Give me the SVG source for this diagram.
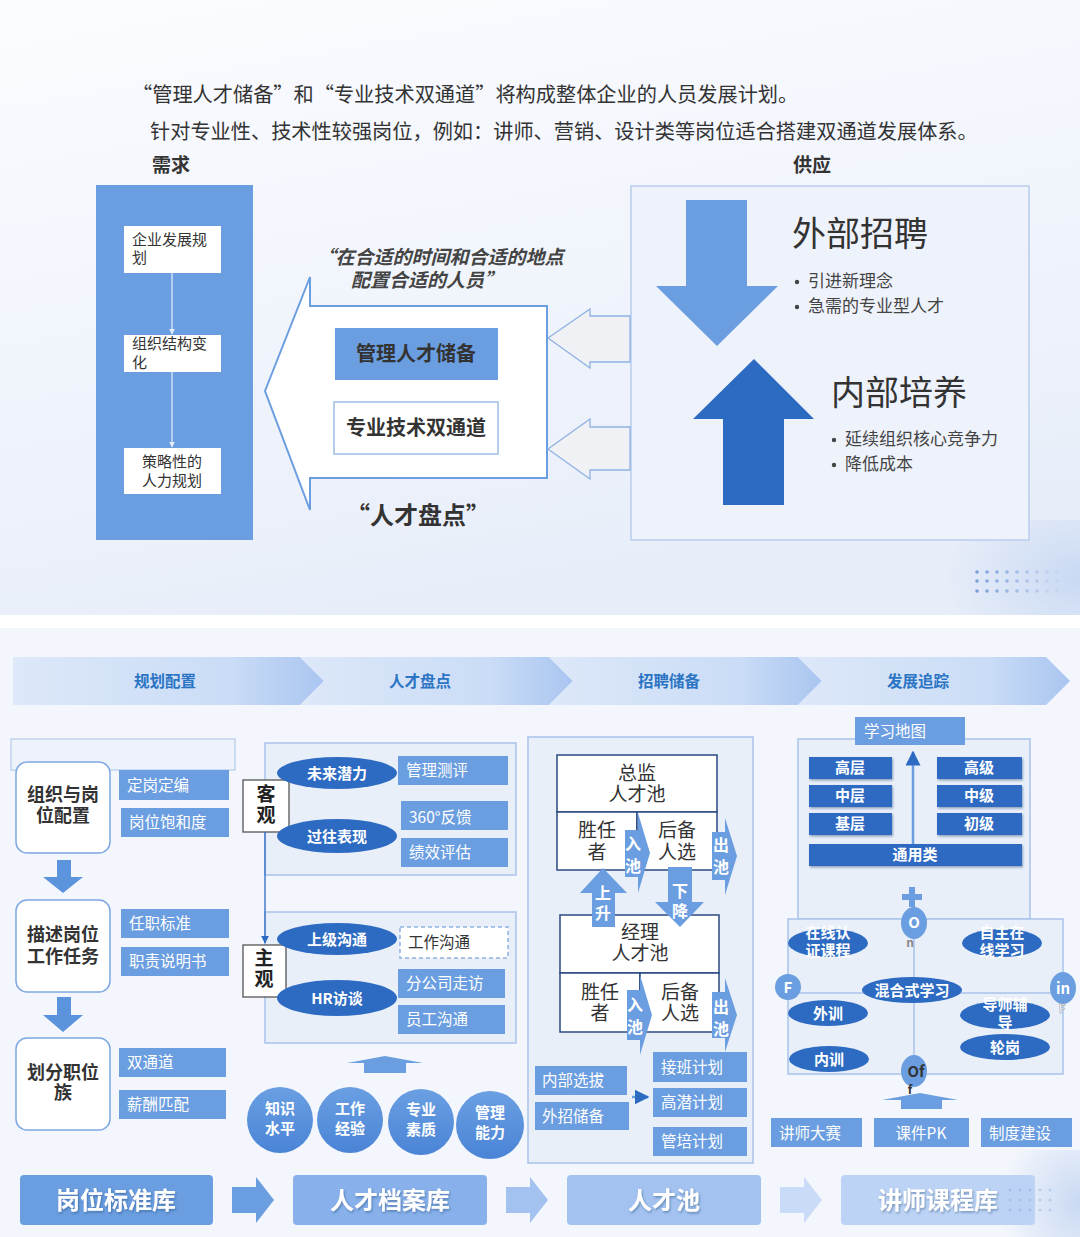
<svg xmlns="http://www.w3.org/2000/svg" width="1080" height="1237" viewBox="0 0 1080 1237">
<defs>
<linearGradient id="bgTop" x1="0" y1="0" x2="0.3" y2="1">
<stop offset="0" stop-color="#fbfcff"/><stop offset="1" stop-color="#e8eef9"/>
</linearGradient>
<linearGradient id="seg" x1="0" y1="0" x2="1" y2="0">
<stop offset="0" stop-color="#dde8f9"/><stop offset="0.7" stop-color="#cadcf6"/><stop offset="1" stop-color="#a9c5f0"/>
</linearGradient>
<radialGradient id="blob" cx="1" cy="0.6" r="1">
<stop offset="0" stop-color="#c9d9f3"/><stop offset="1" stop-color="#c9d9f3" stop-opacity="0"/>
</radialGradient>
<linearGradient id="circ" x1="0" y1="0" x2="0" y2="1">
<stop offset="0" stop-color="#6a9fe2"/><stop offset="1" stop-color="#4a84d6"/>
</linearGradient>
<marker id="ah" viewBox="0 0 10 10" refX="9" refY="5" markerWidth="6" markerHeight="6" orient="auto">
<path d="M0,0 L10,5 L0,10 z" fill="#2d6bc2"/>
</marker>
<marker id="ahw" viewBox="0 0 10 10" refX="9" refY="5" markerWidth="5" markerHeight="5" orient="auto">
<path d="M0,0 L10,5 L0,10 z" fill="#e4edfa"/>
</marker>
<filter id="sh" x="-20%" y="-20%" width="140%" height="140%">
<feDropShadow dx="1" dy="1.5" stdDeviation="0.8" flood-color="#1f3f70" flood-opacity="0.45"/>
</filter>
<style>
text { font-family: "Noto Sans CJK SC", "Noto Sans", sans-serif; }
.mb { fill: #6b9ee0; }
.db { fill: #2d6bc2; }
.cont { fill: #e9eff9; stroke: #a9c3ea; stroke-width: 1.5; }
.wl { fill: #ffffff; font-size: 15.5px; }
.wc { fill: #ffffff; font-size: 15px; font-weight: bold; text-anchor: middle; }
.dk { fill: #333333; }
.c { text-anchor: middle; }
.b { font-weight: bold; }
.hdr { fill: #2b74c4; font-size: 15.5px; font-weight: bold; text-anchor: middle; }
.pool { fill: #ffffff; stroke: #2a4a80; stroke-width: 1.5; }
.pt { fill: #333; font-size: 19px; text-anchor: middle; }
.at { fill: #fff; font-size: 16px; font-weight: bold; text-anchor: middle; }
.big { fill: #fff; font-size: 24px; font-weight: bold; text-anchor: middle; }
.dot { fill: #7a9fd8; }
</style>
</defs>

<!-- backgrounds -->
<rect x="0" y="0" width="1080" height="615" fill="url(#bgTop)"/>
<rect x="940" y="520" width="140" height="95" fill="url(#blob)"/>
<rect x="0" y="615" width="1080" height="13" fill="#ffffff"/>
<rect x="0" y="628" width="1080" height="609" fill="#f3f6fc"/>
<rect x="1000" y="1150" width="80" height="87" fill="url(#blob)"/>

<!-- dots -->
<g id="dots1">
<g class="dot">
<circle cx="977" cy="572" r="1.8" opacity="1"/><circle cx="987" cy="572" r="1.8" opacity="0.9"/><circle cx="997" cy="572" r="1.8" opacity="0.8"/><circle cx="1007" cy="572" r="1.8" opacity="0.7"/><circle cx="1017" cy="572" r="1.8" opacity="0.55"/><circle cx="1027" cy="572" r="1.8" opacity="0.45"/><circle cx="1037" cy="572" r="1.8" opacity="0.35"/><circle cx="1047" cy="572" r="1.8" opacity="0.2"/><circle cx="1057" cy="572" r="1.8" opacity="0.1"/>
<circle cx="977" cy="581" r="1.8" opacity="1"/><circle cx="987" cy="581" r="1.8" opacity="0.9"/><circle cx="997" cy="581" r="1.8" opacity="0.8"/><circle cx="1007" cy="581" r="1.8" opacity="0.7"/><circle cx="1017" cy="581" r="1.8" opacity="0.55"/><circle cx="1027" cy="581" r="1.8" opacity="0.45"/><circle cx="1037" cy="581" r="1.8" opacity="0.35"/><circle cx="1047" cy="581" r="1.8" opacity="0.2"/><circle cx="1057" cy="581" r="1.8" opacity="0.1"/>
<circle cx="977" cy="591" r="1.8" opacity="1"/><circle cx="987" cy="591" r="1.8" opacity="0.9"/><circle cx="997" cy="591" r="1.8" opacity="0.8"/><circle cx="1007" cy="591" r="1.8" opacity="0.7"/><circle cx="1017" cy="591" r="1.8" opacity="0.55"/><circle cx="1027" cy="591" r="1.8" opacity="0.45"/><circle cx="1037" cy="591" r="1.8" opacity="0.35"/><circle cx="1047" cy="591" r="1.8" opacity="0.2"/><circle cx="1057" cy="591" r="1.8" opacity="0.1"/>
</g>
</g>

<!-- top texts -->
<g id="intro">
<text x="132" y="102" font-size="20.2" class="dk">“管理人才储备”和“专业技术双通道”将构成整体企业的人员发展计划。</text>
<text x="150" y="139" font-size="20.2" class="dk">针对专业性、技术性较强岗位，例如：讲师、营销、设计类等岗位适合搭建双通道发展体系。</text>
<text x="152" y="172" font-size="19" class="dk b">需求</text>
<text x="793" y="172" font-size="19" class="dk b">供应</text>
</g>

<!-- demand column -->
<g id="demand">
<rect x="96" y="185" width="157" height="355" class="mb"/>
<g id="n-qyfz"><rect x="124" y="226" width="97" height="47" fill="#fff"/>
<text x="132" y="245" font-size="15" class="dk">企业发展规</text><text x="132" y="263" font-size="15" class="dk">划</text></g>
<g id="n-zzjg"><rect x="124" y="335" width="97" height="37" fill="#fff"/>
<text x="132" y="349" font-size="15" class="dk">组织结构变</text><text x="132" y="368" font-size="15" class="dk">化</text></g>
<g id="n-clx"><rect x="124" y="448" width="97" height="46" fill="#fff"/>
<text x="172" y="467" font-size="15" class="dk c">策略性的</text><text x="172" y="486" font-size="15" class="dk c">人力规划</text></g>
</g>

<!-- center arrow -->
<g id="talent-review">
<polygon points="265,391 310,277 310,306 547,306 547,478 310,478 310,510" fill="#ffffff" stroke="#6b9ee0" stroke-width="2"/>
<text x="440" y="264" font-size="19" font-style="italic" font-weight="bold" fill="#444" text-anchor="middle">“在合适的时间和合适的地点</text>
<text x="427" y="287" font-size="19" font-style="italic" font-weight="bold" fill="#444" text-anchor="middle">配置合适的人员”</text>
<g id="n-glrc"><rect x="335" y="328" width="163" height="52" class="mb"/>
<text x="416" y="361" font-size="20" class="dk b c">管理人才储备</text></g>
<g id="n-zyjs"><rect x="334" y="402" width="164" height="52" fill="#fff" stroke="#9dbbe6" stroke-width="1.5"/>
<text x="416" y="435" font-size="20" class="dk b c">专业技术双通道</text></g>
<text x="418" y="524" font-size="24" class="dk b c">“人才盘点”</text>
</g>

<!-- supply -->
<g id="supply">
<rect x="631" y="186" width="398" height="354" fill="#eef2fb" stroke="#b9cdee" stroke-width="1.5"/>
<polygon points="686,200 747,200 747,286 778,286 717,346 656,286 686,286" fill="#6b9ee0"/>
<polygon points="754,359 814,419 784,419 784,505 723,505 723,419 693,419" fill="#2d6bc2"/>
<text x="792" y="246" font-size="34" fill="#333">外部招聘</text>
<circle cx="797" cy="282" r="2.2" fill="#444"/><text x="808" y="287" font-size="17" fill="#444">引进新理念</text>
<circle cx="797" cy="307" r="2.2" fill="#444"/><text x="808" y="312" font-size="17" fill="#444">急需的专业型人才</text>
<text x="831" y="405" font-size="34" fill="#333">内部培养</text>
<circle cx="834" cy="440" r="2.2" fill="#444"/><text x="845" y="445" font-size="17" fill="#444">延续组织核心竞争力</text>
<circle cx="834" cy="465" r="2.2" fill="#444"/><text x="845" y="470" font-size="17" fill="#444">降低成本</text>
</g>

<!-- header band -->
<g id="header">
<g id="h1"><polygon points="13,657 300,657 324,681 300,705 13,705" fill="url(#seg)"/><text x="165" y="687" class="hdr">规划配置</text></g>
<g id="h2"><polygon points="300,657 549,657 573,681 549,705 300,705 324,681" fill="url(#seg)"/><text x="420" y="687" class="hdr">人才盘点</text></g>
<g id="h3"><polygon points="549,657 798,657 822,681 798,705 549,705 573,681" fill="url(#seg)"/><text x="669" y="687" class="hdr">招聘储备</text></g>
<g id="h4"><polygon points="798,657 1046,657 1070,681 1046,705 798,705 822,681" fill="url(#seg)"/><text x="918" y="687" class="hdr">发展追踪</text></g>
</g>

<!-- column 1 -->
<g id="col1">
<rect x="11" y="739" width="224" height="31" fill="#eef3fb" stroke="#b5cbea" stroke-width="1.2"/>
<g id="n-zzgw"><rect x="16" y="762" width="94" height="91" rx="11" fill="#fff" stroke="#7ea8e2" stroke-width="1.5"/>
<text x="63" y="801" font-size="18" class="dk b c">组织与岗</text><text x="63" y="822" font-size="18" class="dk b c">位配置</text></g>
<g id="n-dgdb"><rect x="119" y="770" width="110" height="30" class="mb"/><text x="127" y="791" class="wl">定岗定编</text></g>
<g id="n-gwbh"><rect x="121" y="808" width="108" height="29" class="mb"/><text x="129" y="828" class="wl">岗位饱和度</text></g>
<g id="n-msgw"><rect x="16" y="900" width="94" height="92" rx="11" fill="#fff" stroke="#7ea8e2" stroke-width="1.5"/>
<text x="63" y="941" font-size="18" class="dk b c">描述岗位</text><text x="63" y="963" font-size="18" class="dk b c">工作任务</text></g>
<g id="n-rzbz"><rect x="121" y="909" width="108" height="29" class="mb"/><text x="129" y="929" class="wl">任职标准</text></g>
<g id="n-zzsm"><rect x="121" y="947" width="108" height="29" class="mb"/><text x="129" y="967" class="wl">职责说明书</text></g>
<g id="n-hfzw"><rect x="16" y="1038" width="94" height="92" rx="11" fill="#fff" stroke="#7ea8e2" stroke-width="1.5"/>
<text x="63" y="1079" font-size="18" class="dk b c">划分职位</text><text x="63" y="1099" font-size="18" class="dk b c">族</text></g>
<g id="n-std"><rect x="119" y="1048" width="107" height="29" class="mb"/><text x="127" y="1068" class="wl">双通道</text></g>
<g id="n-xcpp"><rect x="119" y="1090" width="107" height="29" class="mb"/><text x="127" y="1110" class="wl">薪酬匹配</text></g>
</g>

<!-- column 2 -->
<g id="col2">
<rect x="265" y="743" width="251" height="132" class="cont"/>
<rect x="265" y="912" width="251" height="131" class="cont"/>
<g id="n-kg"><rect x="243" y="780" width="46" height="52" fill="#fff" stroke="#555" stroke-width="1.3"/>
<text x="266" y="801" font-size="19" class="b c" fill="#222">客</text><text x="266" y="822" font-size="19" class="b c" fill="#222">观</text></g>
<g id="n-zg"><rect x="243" y="945" width="43" height="52" fill="#fff" stroke="#555" stroke-width="1.3"/>
<text x="264" y="965" font-size="19" class="b c" fill="#222">主</text><text x="264" y="986" font-size="19" class="b c" fill="#222">观</text></g>
<g id="n-wlql"><ellipse cx="337" cy="773" rx="60" ry="16" class="db"/><text x="337" y="779" class="wc" font-size="16">未来潜力</text></g>
<g id="n-gwbx"><ellipse cx="337" cy="836" rx="60" ry="17" class="db"/><text x="337" y="842" class="wc" font-size="16">过往表现</text></g>
<g id="n-gltp"><rect x="398" y="756" width="110" height="29" class="mb"/><text x="406" y="776" class="wl">管理测评</text></g>
<g id="n-360"><rect x="401" y="801" width="107" height="29" class="mb"/><text x="409" y="823" class="wl" font-size="19">360°反馈</text></g>
<g id="n-jxpg"><rect x="401" y="838" width="107" height="29" class="mb"/><text x="409" y="858" class="wl">绩效评估</text></g>
<g id="n-sjgt"><ellipse cx="337" cy="939" rx="60" ry="16" class="db"/><text x="337" y="945" class="wc" font-size="16">上级沟通</text></g>
<g id="n-hrft"><ellipse cx="337" cy="998" rx="60" ry="18" class="db"/><text x="337" y="1004" class="wc" font-size="16">HR访谈</text></g>
<g id="n-gzgt"><rect x="400" y="927" width="108" height="31" fill="#fff" stroke="#8fb2e4" stroke-width="1.5" stroke-dasharray="4,3"/><text x="408" y="948" font-size="15.5" fill="#333">工作沟通</text></g>
<g id="n-fgs"><rect x="398" y="969" width="107" height="29" class="mb"/><text x="406" y="989" class="wl">分公司走访</text></g>
<g id="n-yggt"><rect x="398" y="1005" width="107" height="29" class="mb"/><text x="406" y="1025" class="wl">员工沟通</text></g>
<g id="n-zs"><circle cx="280" cy="1120" r="33" fill="url(#circ)"/><text x="280" y="1114" class="wc" font-size="17">知识</text><text x="280" y="1134" class="wc" font-size="17">水平</text></g>
<g id="n-gz"><circle cx="350" cy="1120" r="33" fill="url(#circ)"/><text x="350" y="1114" class="wc" font-size="17">工作</text><text x="350" y="1134" class="wc" font-size="17">经验</text></g>
<g id="n-zy"><circle cx="421" cy="1122" r="33" fill="url(#circ)"/><text x="421" y="1115" class="wc" font-size="17">专业</text><text x="421" y="1135" class="wc" font-size="17">素质</text></g>
<g id="n-gl"><circle cx="490" cy="1125" r="34" fill="url(#circ)"/><text x="490" y="1118" class="wc" font-size="17">管理</text><text x="490" y="1138" class="wc" font-size="17">能力</text></g>
</g>

<!-- column 3 -->
<g id="col3">
<rect x="528" y="737" width="225" height="426" class="cont"/>
<g id="n-zjpool"><rect x="557" y="755" width="160" height="57" class="pool"/>
<text x="637" y="780" class="pt">总监</text><text x="637" y="801" class="pt">人才池</text></g>
<g id="n-zj-srz"><rect x="557" y="812" width="80" height="58" class="pool"/>
<text x="597" y="837" class="pt">胜任</text><text x="597" y="859" class="pt">者</text></g>
<g id="n-zj-hb"><rect x="637" y="812" width="80" height="58" class="pool"/>
<text x="677" y="837" class="pt">后备</text><text x="677" y="859" class="pt">人选</text></g>
<g id="n-jlpool"><rect x="560" y="915" width="159" height="58" class="pool"/>
<text x="640" y="939" class="pt">经理</text><text x="640" y="960" class="pt">人才池</text></g>
<g id="n-jl-srz"><rect x="560" y="973" width="80" height="59" class="pool"/>
<text x="600" y="999" class="pt">胜任</text><text x="600" y="1020" class="pt">者</text></g>
<g id="n-jl-hb"><rect x="640" y="973" width="79" height="59" class="pool"/>
<text x="680" y="999" class="pt">后备</text><text x="680" y="1020" class="pt">人选</text></g>
<g id="n-nbxb"><rect x="535" y="1066" width="92" height="29" class="mb"/><text x="542" y="1086" class="wl">内部选拔</text></g>
<g id="n-wzcb"><rect x="535" y="1102" width="94" height="28" class="mb"/><text x="542" y="1122" class="wl">外招储备</text></g>
<g id="n-jbjh"><rect x="653" y="1052" width="94" height="30" class="mb"/><text x="661" y="1073" class="wl">接班计划</text></g>
<g id="n-gqjh"><rect x="653" y="1088" width="94" height="29" class="mb"/><text x="661" y="1108" class="wl">高潜计划</text></g>
<g id="n-gpjh"><rect x="653" y="1127" width="94" height="29" class="mb"/><text x="661" y="1147" class="wl">管培计划</text></g>
</g>

<!-- column 4 -->
<g id="col4">
<rect x="798" y="739" width="232" height="180" class="cont"/>
<rect x="788" y="919" width="275" height="155" class="cont"/>
<line x1="914" y1="919" x2="914" y2="1074" stroke="#a9c3ea" stroke-width="1.5"/>
<line x1="788" y1="993" x2="1063" y2="993" stroke="#a9c3ea" stroke-width="1.5"/>
<g id="n-xxdt"><rect x="855" y="717" width="110" height="28" class="mb"/><text x="864" y="737" class="wl">学习地图</text></g>
<g id="n-gc"><rect x="809" y="757" width="83" height="22" class="db" filter="url(#sh)"/><text x="850" y="773" class="wc" font-size="13.5">高层</text></g>
<g id="n-zc"><rect x="809" y="785" width="83" height="22" class="db" filter="url(#sh)"/><text x="850" y="801" class="wc" font-size="13.5">中层</text></g>
<g id="n-jc"><rect x="809" y="813" width="83" height="22" class="db" filter="url(#sh)"/><text x="850" y="829" class="wc" font-size="13.5">基层</text></g>
<g id="n-gj"><rect x="937" y="757" width="85" height="22" class="db" filter="url(#sh)"/><text x="979" y="773" class="wc" font-size="13.5">高级</text></g>
<g id="n-zj"><rect x="937" y="785" width="85" height="22" class="db" filter="url(#sh)"/><text x="979" y="801" class="wc" font-size="13.5">中级</text></g>
<g id="n-cj"><rect x="937" y="813" width="85" height="22" class="db" filter="url(#sh)"/><text x="979" y="829" class="wc" font-size="13.5">初级</text></g>
<g id="n-tyl"><rect x="809" y="844" width="213" height="22" class="db" filter="url(#sh)"/><text x="915" y="860" class="wc" font-size="13.5">通用类</text></g>
<g id="plus"><rect x="902" y="894" width="20" height="6" class="mb"/><rect x="909" y="887" width="6" height="20" class="mb"/></g>
<g id="n-on"><ellipse cx="914" cy="923" rx="13" ry="16" class="mb"/><text x="914" y="928" class="wc" font-size="14">O</text><text x="910" y="947" font-size="12" fill="#888" font-weight="bold" text-anchor="middle">n</text></g>
<g id="n-f"><circle cx="788" cy="987" r="13" class="mb"/><text x="788" y="993" class="wc" font-size="14">F</text></g>
<g id="n-inf"><ellipse cx="1063" cy="988" rx="13" ry="16" class="mb"/><text x="1063" y="994" class="wc" font-size="14">in</text><text x="1062" y="1013" font-size="12" fill="#e8eef9" stroke="#999" stroke-width="0.4" font-weight="bold" text-anchor="middle">F</text></g>
<g id="n-of"><ellipse cx="914" cy="1071" rx="13" ry="16" class="mb"/><text x="916" y="1077" font-size="15" font-weight="bold" fill="#333" text-anchor="middle">Of</text><text x="910" y="1094" font-size="12" font-weight="bold" fill="#333" text-anchor="middle">f</text></g>
<g id="n-zxrz"><ellipse cx="828" cy="943" rx="40" ry="14" class="db"/><text x="828" y="938" class="wc" font-size="13.5">在线认</text><text x="828" y="956" class="wc" font-size="13.5">证课程</text></g>
<g id="n-zzzx"><ellipse cx="1002" cy="943" rx="40" ry="14" class="db"/><text x="1002" y="938" class="wc" font-size="13.5">自主在</text><text x="1002" y="956" class="wc" font-size="13.5">线学习</text></g>
<g id="n-hhs"><ellipse cx="912" cy="990" rx="50" ry="13" class="db"/><text x="912" y="996" class="wc" font-size="14.5">混合式学习</text></g>
<g id="n-wx"><ellipse cx="828" cy="1013" rx="40" ry="13" class="db"/><text x="828" y="1019" class="wc" font-size="14.5">外训</text></g>
<g id="n-nx"><ellipse cx="829" cy="1059" rx="40" ry="13" class="db"/><text x="829" y="1065" class="wc" font-size="14.5">内训</text></g>
<g id="n-dsfd"><ellipse cx="1005" cy="1015" rx="45" ry="14" class="db"/><text x="1005" y="1010" class="wc" font-size="13.5">导师辅</text><text x="1005" y="1028" class="wc" font-size="13.5">导</text></g>
<g id="n-lg"><ellipse cx="1005" cy="1047" rx="45" ry="13" class="db"/><text x="1005" y="1053" class="wc" font-size="14.5">轮岗</text></g>
<g id="n-jsds"><rect x="771" y="1118" width="91" height="29" class="mb"/><text x="779" y="1139" class="wl">讲师大赛</text></g>
<g id="n-kjpk"><rect x="874" y="1118" width="95" height="29" class="mb"/><text x="921" y="1139" class="wl" text-anchor="middle" font-size="17">课件PK</text></g>
<g id="n-zdjs"><rect x="981" y="1118" width="91" height="29" class="mb"/><text x="989" y="1139" class="wl">制度建设</text></g>
</g>

<!-- bottom bar -->
<g id="bottom">
<g id="n-gwbzk"><rect x="20" y="1175" width="193" height="50" rx="4" fill="#6b9ee0"/><text x="116" y="1209" class="big" filter="url(#sh)">岗位标准库</text></g>
<g id="n-rcdak"><rect x="293" y="1175" width="194" height="50" rx="4" fill="#88b0ea"/><text x="390" y="1209" class="big" filter="url(#sh)">人才档案库</text></g>
<g id="n-rcc"><rect x="567" y="1175" width="194" height="50" rx="4" fill="#a3c2f0"/><text x="664" y="1209" class="big" filter="url(#sh)">人才池</text></g>
<g id="n-jskc"><rect x="841" y="1175" width="194" height="50" rx="4" fill="#bdd3f5"/><text x="938" y="1209" class="big" filter="url(#sh)">讲师课程库</text></g>
<g class="dot" opacity="0.35">
<circle cx="1010" cy="1190" r="1.5"/><circle cx="1020" cy="1190" r="1.5"/><circle cx="1030" cy="1190" r="1.5"/><circle cx="1040" cy="1190" r="1.5"/><circle cx="1050" cy="1190" r="1.5"/>
<circle cx="1010" cy="1200" r="1.5"/><circle cx="1020" cy="1200" r="1.5"/><circle cx="1030" cy="1200" r="1.5"/><circle cx="1040" cy="1200" r="1.5"/><circle cx="1050" cy="1200" r="1.5"/>
<circle cx="1010" cy="1210" r="1.5"/><circle cx="1020" cy="1210" r="1.5"/><circle cx="1030" cy="1210" r="1.5"/><circle cx="1040" cy="1210" r="1.5"/><circle cx="1050" cy="1210" r="1.5"/>
</g>
</g>

<!-- connectors -->
<g id="connectors">
<line x1="172" y1="273" x2="172" y2="334" stroke="#e4edfa" stroke-width="1.2" marker-end="url(#ahw)"/>
<line x1="172" y1="372" x2="172" y2="447" stroke="#e4edfa" stroke-width="1.2" marker-end="url(#ahw)"/>
<polygon points="548,338 590,309 590,316 630,316 630,362 590,362 590,368" fill="#f0f1f4" stroke="#8fb2e4" stroke-width="1.3"/>
<polygon points="548,449 590,419 590,427 630,427 630,470 590,470 590,479" fill="#f0f1f4" stroke="#8fb2e4" stroke-width="1.3"/>
<polygon points="57,860 71,860 71,877 83,877 63,893 43,877 57,877" fill="#5b93dc"/>
<polygon points="57,997 71,997 71,1015 83,1015 63,1032 43,1015 57,1015" fill="#5b93dc"/>
<line x1="265" y1="832" x2="265" y2="943" stroke="#2d6bc2" stroke-width="1.3" marker-end="url(#ah)"/>
<polygon points="385,1056 423,1063 406,1063 406,1073 364,1073 364,1063 347,1063" fill="#6b9ee0"/>
<g id="a-rc1"><polygon points="625,830 638,830 638,813 650,853 638,893 638,877 625,877" fill="#6b9ee0"/><text x="633" y="850" class="at">入</text><text x="633" y="872" class="at">池</text></g>
<g id="a-cc1"><polygon points="712,832 725,832 725,818 737,856 725,895 725,880 712,880" fill="#6b9ee0"/><text x="721" y="851" class="at">出</text><text x="721" y="873" class="at">池</text></g>
<g id="a-ss"><polygon points="603,868 627,893 615,893 615,927 592,927 592,893 580,893" fill="#6b9ee0"/><text x="603" y="899" class="at">上</text><text x="603" y="919" class="at">升</text></g>
<g id="a-xj"><polygon points="668,867 692,867 692,902 704,902 680,927 655,902 668,902" fill="#6b9ee0"/><text x="680" y="897" class="at">下</text><text x="680" y="917" class="at">降</text></g>
<g id="a-rc2"><polygon points="627,990 640,990 640,975 652,1015 640,1055 640,1040 627,1040" fill="#6b9ee0"/><text x="635" y="1011" class="at">入</text><text x="635" y="1033" class="at">池</text></g>
<g id="a-cc2"><polygon points="712,992 725,992 725,978 737,1015 725,1052 725,1038 712,1038" fill="#6b9ee0"/><text x="721" y="1013" class="at">出</text><text x="721" y="1035" class="at">池</text></g>
<line x1="632" y1="1097" x2="648" y2="1097" stroke="#6b9ee0" stroke-width="2.5" marker-end="url(#ah)"/>
<line x1="913" y1="844" x2="913" y2="752" stroke="#6b9ee0" stroke-width="2.5" marker-end="url(#ah)"/>
<polygon points="920,1093 958,1100 942,1100 942,1109 901,1109 901,1100 882,1100" fill="#6b9ee0"/>
<polygon points="232,1187 256,1187 256,1177 274,1200 256,1223 256,1213 232,1213" fill="#6b9ee0"/>
<polygon points="506,1187 530,1187 530,1177 548,1200 530,1223 530,1213 506,1213" fill="#a3c2f0"/>
<polygon points="780,1187 804,1187 804,1177 822,1200 804,1223 804,1213 780,1213" fill="#c9dbf6"/>
</g>
</svg>
